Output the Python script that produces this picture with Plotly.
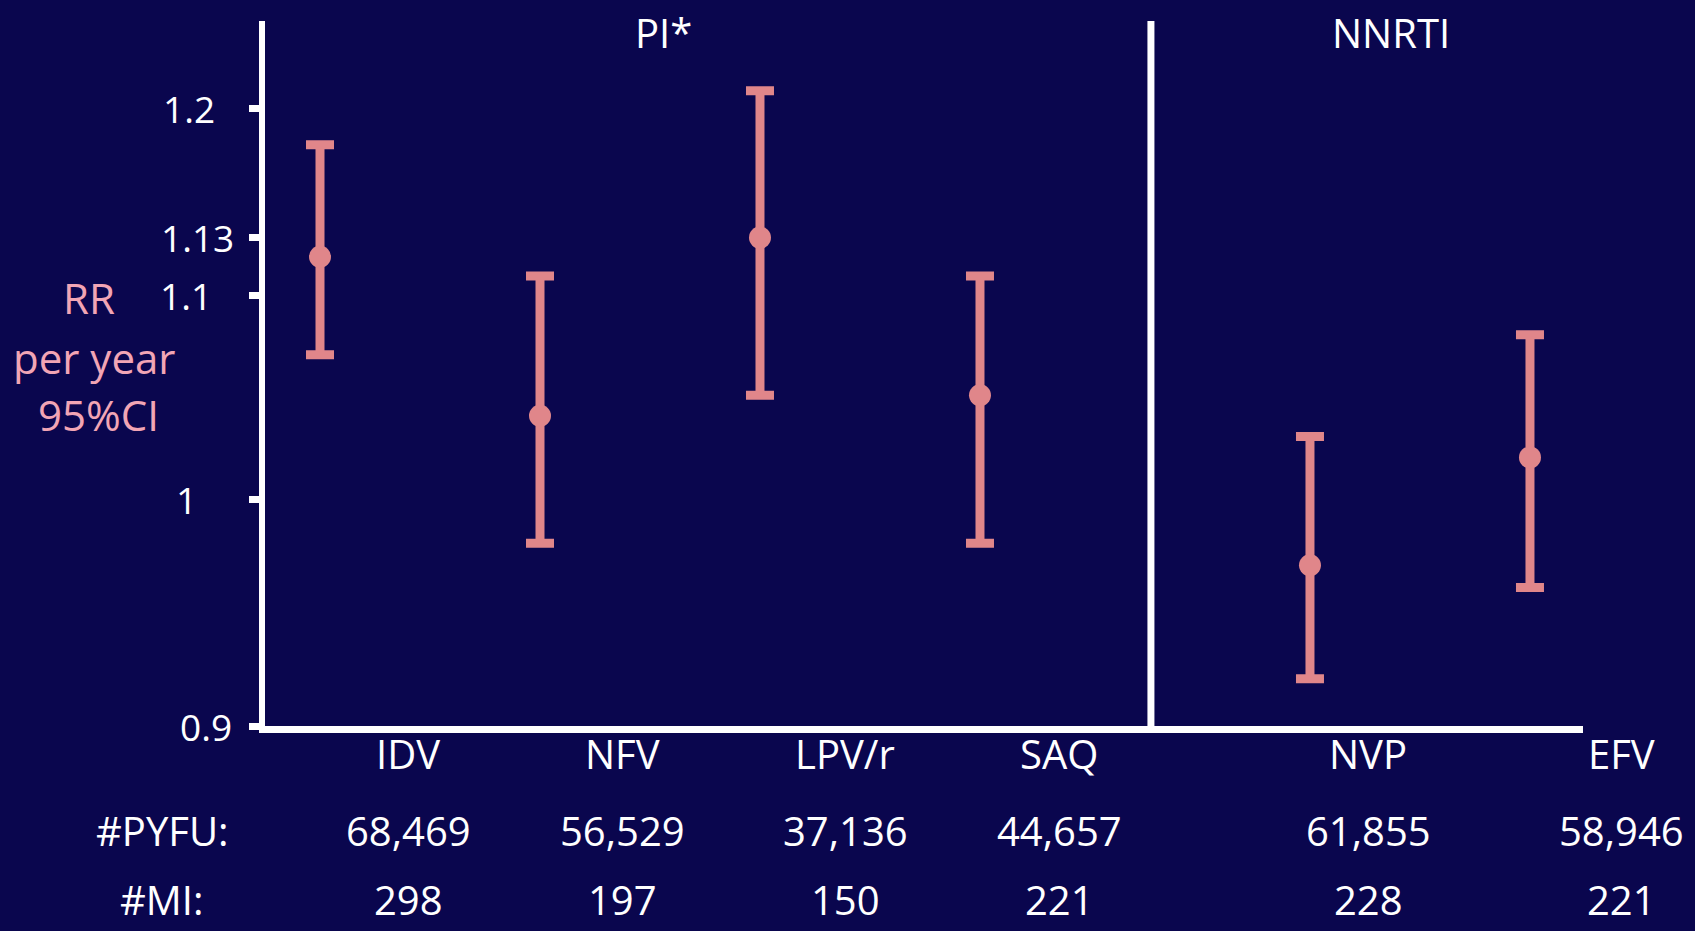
import numpy as np
import plotly.graph_objects as go

# ---- data ----
drugs = ["IDV", "NFV", "LPV/r", "SAQ", "NVP", "EFV"]
rr = [1.12, 1.04, 1.13, 1.05, 0.97, 1.02]
ci_low = [1.07, 0.98, 1.05, 0.98, 0.92, 0.96]
ci_high = [1.18, 1.11, 1.21, 1.11, 1.03, 1.08]
pyfu = ["68,469", "56,529", "37,136", "44,657", "61,855", "58,946"]
mi = ["298", "197", "150", "221", "228", "221"]
y_ticks = [0.9, 1, 1.1, 1.13, 1.2]
y_tick_text = ["0.9", "1", "1.1", "1.13", "1.2"]
class_labels = ["PI*", "NNRTI"]
row_labels = ["#PYFU:", "#MI:"]
y_title_lines = ["RR", "per year", "95%CI"]

# ---- layout / style ----
W, H = 1695, 931
ML, MR, MT, MB = 265, 112, 21, 205
PW, PH = W - ML - MR, H - MT - MB
x_pos = [0, 1, 2, 3, 4.5, 5.5]
x_range = [-0.25, 5.741]
divider_x = 3.777

BG = "#0a064e"
BAR = "#e0868a"
PINK = "#f2a5b5"
WHITE = "#ffffff"
FONT = "Open Sans"


def px_x(p):
    return (p - ML) / PW


def px_y(p):
    return (H - MB - p) / PH


err_plus = [h - v for h, v in zip(ci_high, rr)]
err_minus = [v - l for v, l in zip(rr, ci_low)]

fig = go.Figure()
fig.add_trace(go.Scatter(
    x=x_pos, y=rr, mode="markers",
    marker=dict(size=22, color=BAR),
    error_y=dict(type="data", symmetric=False, array=err_plus, arrayminus=err_minus,
                 color=BAR, thickness=9, width=14),
    showlegend=False, hoverinfo="skip",
))

shapes = [
    dict(type="line", xref="paper", yref="y", x0=0, x1=1, y0=np.log10(1), y1=np.log10(1),
         line=dict(color=WHITE, width=2), layer="below"),
    dict(type="line", xref="x", yref="paper", x0=divider_x, x1=divider_x, y0=0, y1=1,
         line=dict(color=WHITE, width=7), layer="above"),
]

annotations = []
label_px = [408, 622, 845, 1059, 1368, 1621]
row_px = [753, 830, 900]
for lx, d, p, m in zip(label_px, drugs, pyfu, mi):
    for ty, t in zip(row_px, [d, p, m]):
        annotations.append(dict(x=px_x(lx), y=px_y(ty), xref="paper", yref="paper", text=t,
                                showarrow=False, xanchor="center", yanchor="middle",
                                font=dict(family=FONT, size=40, color=WHITE)))
for ry, t in zip(row_px[1:], row_labels):
    annotations.append(dict(x=px_x(162), y=px_y(ry), xref="paper", yref="paper", text=t,
                            showarrow=False, xanchor="center", yanchor="middle",
                            font=dict(family=FONT, size=40, color=WHITE)))
for cx, t in zip([663, 1391], class_labels):
    annotations.append(dict(x=px_x(cx), y=px_y(32), xref="paper", yref="paper", text=t,
                            showarrow=False, xanchor="center", yanchor="middle",
                            font=dict(family=FONT, size=40, color=WHITE)))
tick_cx = [206, 186, 186, 197, 189]
for tv, tt, cx in zip(y_ticks, y_tick_text, tick_cx):
    annotations.append(dict(x=px_x(cx), y=np.log10(tv), xref="paper", yref="y", text=tt,
                            showarrow=False, xanchor="center", yanchor="middle",
                            font=dict(family=FONT, size=37, color=WHITE)))
for cx, cy, t in zip([89, 94, 98], [297, 357, 414], y_title_lines):
    annotations.append(dict(x=px_x(cx), y=px_y(cy), xref="paper", yref="paper", text=t,
                            showarrow=False, xanchor="center", yanchor="middle",
                            font=dict(family=FONT, size=42, color=PINK)))

fig.update_layout(
    width=W, height=H,
    margin=dict(l=ML, r=MR, t=MT, b=MB, pad=0),
    paper_bgcolor=BG, plot_bgcolor=BG,
    shapes=shapes, annotations=annotations,
    xaxis=dict(range=x_range, showgrid=False, zeroline=False, showticklabels=False,
               ticks="", showline=True, linecolor=WHITE, linewidth=7, fixedrange=True),
    yaxis=dict(type="log", range=[np.log10(0.9), np.log10(1.25)], showgrid=False,
               zeroline=False, showticklabels=False, tickvals=y_ticks, ticks="outside",
               ticklen=10, tickwidth=7, tickcolor=WHITE,
               showline=True, linecolor=WHITE, linewidth=6, fixedrange=True),
)

fig.write_html("out.html", config={"displayModeBar": False},
               post_script="document.body.style.margin='0';document.body.style.overflow='hidden';")
